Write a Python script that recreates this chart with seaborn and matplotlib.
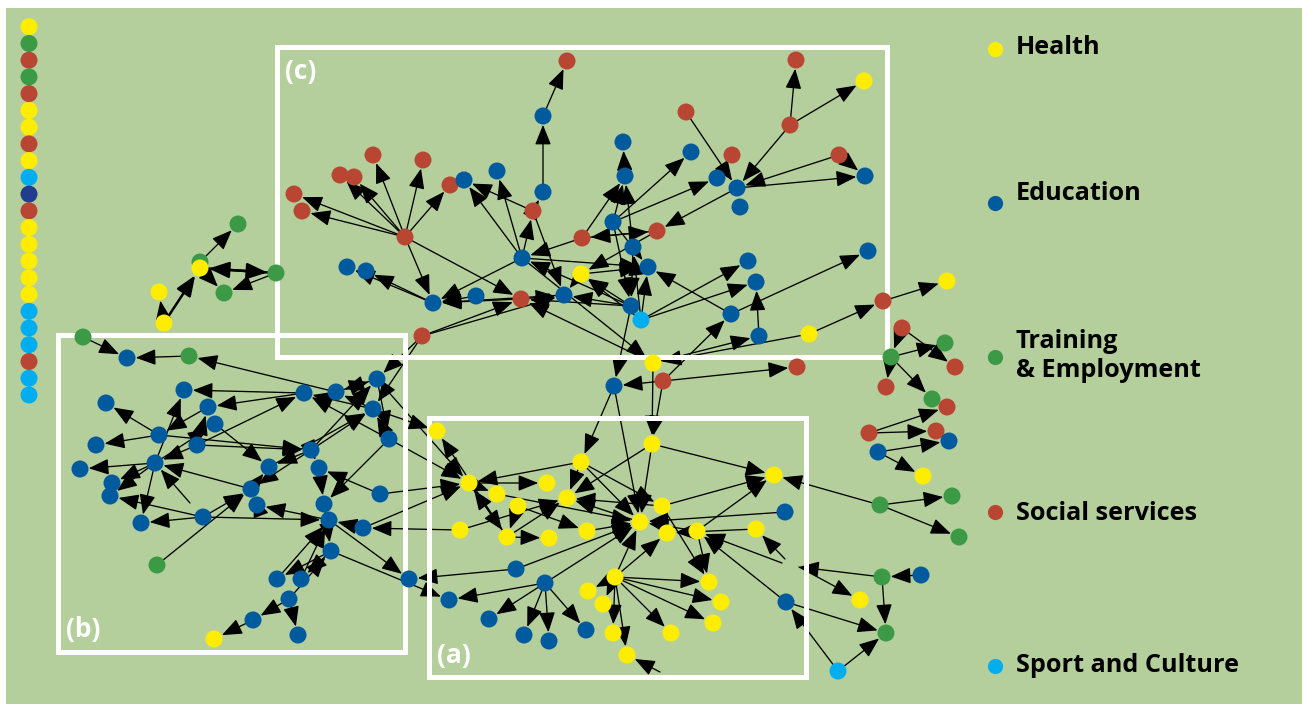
import numpy as np
import pandas as pd
import matplotlib
matplotlib.use("Agg")
import matplotlib.pyplot as plt
import matplotlib.patches as patches
import seaborn as sns

sns.set_style("white")
plt.rcParams['font.family'] = ['Open Sans', 'DejaVu Sans']

colors = {'health': '#ffed00', 'education': '#005a9e', 'training': '#3c9a46',
          'social': '#b94633', 'sport': '#00aeef', 'other': '#233d8e'}

# stacked column of unconnected nodes (top to bottom)
column_groups = ['health', 'training', 'social', 'training', 'social', 'health', 'health',
                 'social', 'health', 'sport', 'other', 'social', 'health', 'health', 'health',
                 'health', 'health', 'sport', 'sport', 'sport', 'social', 'sport', 'sport']

# node layout: (id, x, y, group)
nodes_upper_left = [
    ('UL1', 238, 224, 'training'), ('UL2', 200, 262, 'training'), ('UL3', 200, 268, 'health'),
    ('UL4', 159, 292, 'health'), ('UL5', 164, 323, 'health'), ('UL6', 224, 293, 'training'),
    ('UL7', 276, 273, 'training'),
]
nodes_c = [
    ('C1', 567, 61, 'social'), ('C2', 543, 116, 'education'), ('C3', 373, 155, 'social'),
    ('C4', 423, 160, 'social'), ('C5', 340, 175, 'social'), ('C6', 354, 177, 'social'),
    ('C7', 294, 194, 'social'), ('C8', 302, 211, 'social'), ('C9', 450, 185, 'social'),
    ('C10', 464, 180, 'education'), ('C11', 497, 171, 'education'), ('C12', 543, 192, 'education'),
    ('C13', 533, 211, 'social'), ('C14', 405, 237, 'social'), ('C15', 582, 238, 'social'),
    ('C16', 522, 258, 'education'), ('C17', 581, 274, 'health'), ('C18', 347, 267, 'education'),
    ('C19', 366, 271, 'education'), ('C20', 433, 303, 'education'), ('C21', 476, 296, 'education'),
    ('C22', 521, 299, 'social'), ('C23', 564, 295, 'education'), ('C24', 422, 336, 'social'),
    ('C25', 796, 60, 'social'), ('C26', 864, 81, 'health'), ('C27', 686, 112, 'social'),
    ('C28', 790, 125, 'social'), ('C29', 623, 142, 'education'), ('C30', 691, 152, 'education'),
    ('C31', 732, 155, 'social'), ('C32', 839, 155, 'social'), ('C33', 625, 176, 'education'),
    ('C34', 717, 178, 'education'), ('C35', 737, 188, 'education'), ('C36', 865, 176, 'education'),
    ('C37', 740, 207, 'education'), ('C38', 613, 222, 'education'), ('C39', 657, 231, 'social'),
    ('C40', 633, 247, 'education'), ('C41', 648, 267, 'education'), ('C42', 748, 261, 'education'),
    ('C43', 756, 282, 'education'), ('C44', 868, 251, 'education'), ('C45', 631, 306, 'education'),
    ('C46', 641, 320, 'sport'), ('C47', 731, 314, 'education'), ('C48', 759, 336, 'education'),
    ('C49', 809, 334, 'health'),
]
nodes_middle = [
    ('M1', 653, 363, 'health'), ('M2', 663, 381, 'social'), ('M3', 614, 386, 'education'),
    ('M4', 797, 367, 'social'),
]
nodes_right = [
    ('R1', 947, 281, 'health'), ('R2', 883, 301, 'social'), ('R3', 902, 328, 'social'),
    ('R4', 945, 343, 'training'), ('R5', 891, 357, 'training'), ('R6', 955, 367, 'social'),
    ('R7', 886, 387, 'social'), ('R8', 932, 399, 'training'), ('R9', 947, 407, 'social'),
    ('R10', 869, 433, 'social'), ('R11', 936, 431, 'social'), ('R12', 949, 441, 'education'),
    ('R13', 878, 452, 'education'), ('R14', 923, 476, 'health'), ('R15', 880, 505, 'training'),
    ('R16', 952, 496, 'training'), ('R17', 959, 537, 'training'), ('R18', 882, 577, 'training'),
    ('R19', 921, 575, 'education'), ('R20', 860, 600, 'health'), ('R21', 786, 602, 'education'),
    ('R22', 886, 633, 'training'), ('R23', 838, 671, 'sport'),
]
nodes_a = [
    ('A1', 437, 431, 'health'), ('A2', 581, 462, 'health'), ('A3', 652, 444, 'health'),
    ('A4', 469, 483, 'health'), ('A5', 497, 494, 'health'), ('A6', 547, 483, 'health'),
    ('A7', 518, 506, 'health'), ('A8', 567, 498, 'health'), ('A9', 662, 506, 'health'),
    ('A10', 774, 475, 'health'), ('A11', 785, 512, 'education'), ('A12', 640, 522, 'health'),
    ('A13', 667, 533, 'health'), ('A14', 697, 531, 'health'), ('A15', 756, 529, 'health'),
    ('A16', 460, 530, 'health'), ('A17', 507, 537, 'health'), ('A18', 549, 538, 'health'),
    ('A19', 587, 531, 'health'), ('A20', 516, 569, 'education'), ('A21', 545, 583, 'education'),
    ('A22', 615, 577, 'health'), ('A23', 588, 591, 'health'), ('A24', 603, 604, 'health'),
    ('A25', 709, 582, 'health'), ('A26', 721, 602, 'health'), ('A27', 713, 623, 'health'),
    ('A28', 449, 600, 'education'), ('A29', 489, 619, 'education'), ('A30', 524, 635, 'education'),
    ('A31', 549, 641, 'education'), ('A32', 586, 630, 'education'), ('A33', 613, 633, 'health'),
    ('A34', 671, 633, 'health'), ('A35', 627, 655, 'health'),
]
nodes_b = [
    ('B1', 83, 337, 'training'), ('B3', 127, 358, 'education'), ('B4', 189, 356, 'training'),
    ('B5', 184, 390, 'education'), ('B6', 106, 403, 'education'), ('B7', 208, 407, 'education'),
    ('B8', 215, 424, 'education'), ('B9', 159, 435, 'education'), ('B10', 96, 445, 'education'),
    ('B11', 197, 445, 'education'), ('B12', 155, 463, 'education'), ('B13', 80, 469, 'education'),
    ('B14', 112, 483, 'education'), ('B15', 110, 496, 'education'), ('B16', 141, 523, 'education'),
    ('B17', 203, 517, 'education'), ('B18', 251, 489, 'education'), ('B19', 257, 505, 'education'),
    ('B20', 269, 467, 'education'), ('B21', 304, 393, 'education'), ('B22', 336, 392, 'education'),
    ('B23', 377, 379, 'education'), ('B24', 373, 409, 'education'), ('B25', 389, 439, 'education'),
    ('B26', 311, 450, 'education'), ('B27', 319, 468, 'education'), ('B28', 380, 494, 'education'),
    ('B29', 324, 504, 'education'), ('B30', 329, 520, 'education'), ('B31', 363, 528, 'education'),
    ('B32', 331, 551, 'education'), ('B33', 409, 579, 'education'), ('B34', 157, 565, 'training'),
    ('B35', 277, 579, 'education'), ('B36', 301, 579, 'education'), ('B37', 289, 599, 'education'),
    ('B38', 253, 620, 'education'), ('B39', 298, 635, 'education'), ('B40', 214, 639, 'health'),
]
# loose arrow ends without a drawn node
ghost_points = [('g1', 799, 567), ('g2', 785, 559), ('g3', 782, 563), ('g4', 660, 672), ('g5', 190, 503)]

edges_upper_left = [('UL2', 'UL1'), ('UL5', 'UL4'), ('UL5', 'UL3'), ('UL3', 'UL7'), ('UL7', 'UL3'),
                    ('UL3', 'UL6'), ('UL7', 'UL6')]
thick_edges = [('UL5', 'UL3'), ('UL3', 'UL7'), ('UL7', 'UL3')]
edges_c = [
    ('C2', 'C1'), ('C12', 'C2'), ('C13', 'C12'), ('C14', 'C7'), ('C14', 'C8'), ('C14', 'C5'),
    ('C14', 'C6'), ('C14', 'C3'), ('C14', 'C4'), ('C14', 'C9'), ('C14', 'C20'), ('C14', 'C22'),
    ('C13', 'C10'), ('C16', 'C10'), ('C16', 'C11'), ('C16', 'C13'), ('C15', 'C16'), ('C16', 'C20'),
    ('C21', 'C20'), ('C22', 'C20'), ('C23', 'C20'), ('C20', 'C19'), ('C20', 'C18'), ('C24', 'C22'),
    ('C24', 'C23'), ('C22', 'C23'), ('C13', 'C23'), ('C17', 'C23'), ('C45', 'C22'), ('C24', 'B23'),
    ('C24', 'B24'), ('C28', 'C25'), ('C28', 'C26'), ('C28', 'C35'), ('C27', 'C35'), ('C32', 'C36'),
    ('C35', 'C36'), ('C32', 'C35'), ('C35', 'C39'), ('C38', 'C33'), ('C33', 'C29'), ('C38', 'C30'),
    ('C38', 'C34'), ('C15', 'C33'), ('C15', 'C39'), ('C39', 'C15'), ('C40', 'C33'), ('C38', 'C41'),
    ('C38', 'C45'), ('C39', 'C17'), ('C17', 'C41'), ('C47', 'C41'), ('C46', 'C42'), ('C46', 'C43'),
    ('C46', 'C41'), ('C48', 'C43'), ('C47', 'C44'), ('C46', 'C17'), ('C45', 'C17'), ('C40', 'C45'),
    ('C46', 'C40'), ('C45', 'C23'), ('C45', 'C16'), ('C16', 'C41'),
]
edges_middle = [('C45', 'M3'), ('M2', 'M3'), ('C16', 'M1'), ('M1', 'C22'), ('M2', 'M4'), ('M2', 'C47'),
                ('M1', 'C48'), ('C49', 'M1'), ('C49', 'R2'), ('R2', 'R1'), ('M1', 'A3'), ('M2', 'A3'),
                ('M3', 'A2'), ('M3', 'A12')]
edges_right = [('R3', 'R6'), ('R3', 'R5'), ('R5', 'R4'), ('R5', 'R7'), ('R5', 'R8'), ('R10', 'R9'),
               ('R10', 'R11'), ('R13', 'R12'), ('R13', 'R14'), ('R15', 'A10'), ('R15', 'R16'),
               ('R15', 'R17'), ('R19', 'R18'), ('R18', 'R22'), ('R18', 'g1'), ('g1', 'R20'),
               ('R21', 'R22'), ('R23', 'R22'), ('R23', 'R21'), ('R21', 'A14'), ('g2', 'A15'),
               ('g3', 'A14'), ('g4', 'A35')]
edges_a = [
    ('A2', 'A8'), ('A2', 'A4'), ('A2', 'A12'), ('A2', 'A9'), ('A3', 'A8'), ('A3', 'A12'), ('A3', 'A10'),
    ('A4', 'A5'), ('A17', 'A1'), ('A4', 'A17'), ('A17', 'A4'), ('A4', 'A6'), ('A7', 'A17'),
    ('A17', 'A18'), ('A17', 'A8'), ('A16', 'A8'), ('A12', 'A8'), ('A9', 'A8'), ('A19', 'A12'),
    ('A7', 'A19'), ('A5', 'A12'), ('A14', 'A12'), ('A14', 'A13'), ('A11', 'A12'), ('A15', 'A13'),
    ('A9', 'A10'), ('A14', 'A10'), ('A9', 'A25'), ('A14', 'A25'), ('A22', 'A12'), ('A22', 'A13'),
    ('A22', 'A25'), ('A22', 'A26'), ('A22', 'A27'), ('A22', 'A34'), ('A22', 'A33'), ('A22', 'A35'),
    ('A22', 'A23'), ('A22', 'A24'), ('A21', 'A28'), ('A21', 'A29'), ('A21', 'A30'), ('A21', 'A31'),
    ('A21', 'A32'), ('A21', 'A12'), ('A20', 'A12'), ('A20', 'B33'),
]
edges_b = [
    ('B1', 'B3'), ('B4', 'B3'), ('B22', 'B4'), ('B21', 'B5'), ('B21', 'B7'), ('B11', 'B21'),
    ('B9', 'B6'), ('B9', 'B10'), ('B7', 'B9'), ('B9', 'B26'), ('B12', 'B13'), ('B12', 'B14'),
    ('B12', 'B15'), ('B12', 'B16'), ('B12', 'B5'), ('B12', 'B8'), ('B11', 'B12'), ('B18', 'B12'),
    ('B17', 'B15'), ('B17', 'B16'), ('g5', 'B12'), ('B17', 'B18'), ('B17', 'B30'), ('B34', 'B18'),
    ('B8', 'B20'), ('B11', 'B26'), ('B11', 'B7'), ('B26', 'B20'), ('B26', 'B18'), ('B26', 'B27'),
    ('B26', 'B23'), ('B27', 'B29'), ('B28', 'B27'), ('B25', 'B29'), ('B25', 'B24'), ('B25', 'B21'),
    ('B24', 'B22'), ('B23', 'B22'), ('B31', 'B30'), ('B19', 'B18'), ('B18', 'B20'), ('B30', 'B19'),
    ('B20', 'B24'), ('B32', 'B35'), ('B32', 'B36'), ('B37', 'B32'), ('B36', 'B30'), ('B35', 'B30'),
    ('B37', 'B38'), ('B38', 'B40'), ('B37', 'B39'), ('B30', 'B33'), ('B32', 'A28'), ('B28', 'A4'),
    ('B31', 'A4'), ('B25', 'A4'), ('B23', 'A4'), ('B24', 'A1'), ('A16', 'B31'), ('B24', 'B21'),
    ('B22', 'B23'), ('B26', 'B24'), ('B23', 'B25'), ('B29', 'B32'),
]

legend_labels = ['Health', 'Education', 'Training\n& Employment', 'Social services', 'Sport and Culture']
legend_groups = ['health', 'education', 'training', 'social', 'sport']

# region boxes (x0, y0, x1, y1) and their labels
box_names = ['(c)', '(b)', '(a)']
box_bounds = [(277, 47, 887, 357), (58, 335, 405, 652), (429, 418, 806, 677)]

# ---- build tables
node_df = pd.DataFrame(nodes_upper_left + nodes_c + nodes_middle + nodes_right + nodes_a + nodes_b,
                       columns=['id', 'x', 'y', 'group'])
col_df = pd.DataFrame({'id': [f'col{i}' for i in range(len(column_groups))],
                       'x': 29, 'y': 26.7 + 16.74 * np.arange(len(column_groups)),
                       'group': column_groups})
pos = {r.id: (r.x, r.y) for r in node_df.itertuples()}
for gid, gx, gy in ghost_points:
    pos[gid] = (gx, gy)
ghosts = {g[0] for g in ghost_points}

fig = plt.figure(figsize=(13.06, 7.04), dpi=100)
ax = fig.add_axes([0, 0, 1, 1])
ax.set_xlim(0, 1306)
ax.set_ylim(704, 0)
ax.axis('off')
ax.add_patch(patches.Rectangle((6, 8), 1296, 700, fc='#b5cf9c', ec='none', zorder=0))

all_edges = edges_upper_left + edges_c + edges_middle + edges_right + edges_a + edges_b
for s, t in all_edges:
    thick = (s, t) in thick_edges
    ax.annotate('', xy=pos[t], xytext=pos[s],
                arrowprops=dict(arrowstyle='-|>,head_length=0.75,head_width=0.3',
                                color='black', lw=1.8 if thick else 0.95,
                                shrinkA=0, shrinkB=0 if t in ghosts else 6.3,
                                mutation_scale=16.5),
                zorder=1)

for name, (x0, y0, x1, y1) in zip(box_names, box_bounds):
    ax.add_patch(patches.Rectangle((x0, y0), x1 - x0, y1 - y0, fill=False, ec='white', lw=3.6, zorder=2))

label_pos = {'(c)': (285, 72), '(b)': (66, 630), '(a)': (437, 656)}
for name in box_names:
    ax.text(*label_pos[name], name, color='white', fontsize=19, fontweight='bold',
            ha='left', va='center', zorder=2)

sns.scatterplot(data=pd.concat([node_df, col_df]), x='x', y='y', hue='group', palette=colors,
                s=150, linewidth=0, legend=False, ax=ax, zorder=3)

leg_dot_y = [49, 203, 357, 512, 666]
leg_text_y = [47, 193, 356, 513, 665]
for lab, grp, dy, ty in zip(legend_labels, legend_groups, leg_dot_y, leg_text_y):
    ax.scatter(995, dy, s=120, color=colors[grp], linewidths=0, zorder=3)
    ax.text(1016, ty, lab, fontsize=18.2, fontweight='bold', ha='left', va='center',
            linespacing=1.2, color='black')

fig.savefig('out.png', dpi=100)
